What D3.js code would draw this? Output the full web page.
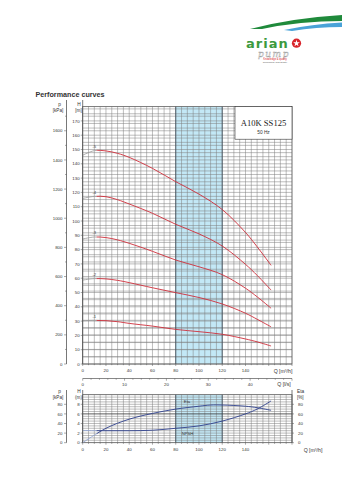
<!DOCTYPE html>
<html>
<head>
<meta charset="utf-8">
<script src="https://cdn.jsdelivr.net/npm/d3@7"></script>
<style>
  html, body { margin: 0; padding: 0; background: #fff; }
  svg { display: block; font-family: Arial, "Liberation Sans", sans-serif; }
</style>
</head>
<body>
<svg id="chart" width="342" height="480"></svg>
<script>
// ---- pump performance data ----
const flowPoints = [0, 10, 20, 30, 40, 60, 80, 100, 120, 140, 150, 162];      // Q [m³/h]
const stageNames = ["-1", "-2", "-3", "-4", "-5"];
const headStage1 = [30.3, 30.5, 30.3, 29.6, 28.4, 26.5, 24.2, 22.6, 20.8, 17.5, 15.5, 12.6];
const headStage2 = [58.7, 59.7, 59.5, 58.5, 56.9, 53.3, 49.9, 46.5, 42.0, 35.5, 31.3, 26.0];
const headStage3 = [87.4, 88.8, 88.4, 86.8, 84.4, 78.8, 72.7, 68.0, 62.5, 53.0, 47.0, 39.0];
const headStage4 = [115.8, 117.2, 117.0, 114.9, 111.9, 105.4, 97.7, 91.0, 82.5, 69.7, 62.0, 51.7];
const headStage5 = [146.0, 149.2, 149.0, 147.3, 144.5, 136.8, 127.5, 118.8, 108.0, 92.0, 82.0, 69.0];
const stageHeads = [headStage1, headStage2, headStage3, headStage4, headStage5];

const operatingStart = 12;            // Q where the working range begins
const recommendedRange = [80, 120];   // shaded best-efficiency band

const effFlow = [0, 20, 40, 60, 80, 100, 110, 120, 140, 150, 162];
const effValues = [0, 30, 49, 61, 70, 76, 78.5, 78.5, 76, 73, 67.5];          // Eta [%]
const npshFlow = [0, 20, 40, 60, 80, 100, 120, 140, 150, 162];
const npshValues = [2.55, 2.5, 2.5, 2.6, 3.0, 3.5, 4.5, 6.0, 7.0, 8.7];       // NPSH [m]

const flowTicks = [0, 20, 40, 60, 80, 100, 120, 140];
const headTicks = [0, 10, 20, 30, 40, 50, 60, 70, 80, 90, 100, 110, 120, 130, 140, 150, 160, 170];
const pressureTicks = [0, 200, 400, 600, 800, 1000, 1200, 1400, 1600];
const litreTicks = [0, 10, 20, 30, 40];
const npshTicks = [0, 2, 4, 6, 8];
const lowerPressureLabels = ["0", "20", "40", "60", "80"];
const etaTicks = [0, 20, 40, 60, 80];

const modelName = "A10K SS125";
const frequency = "50 Hz";

// ---- layout ----
const svg = d3.select("#chart");
const left = 82.7, right = 292;
const pAxisX = 66.5;

const x = d3.scaleLinear().domain([0, 180]).range([left, right]);
const yH = d3.scaleLinear().domain([0, 180]).range([364, 106.6]);
const yP = d3.scaleLinear().domain([0, 180 * 9.81]).range([364, 106.6]);
const xLs = d3.scaleLinear().domain([0, 180 / 3.6]).range([left, right]);
const yN = d3.scaleLinear().domain([0, 10]).range([442.7, 394.7]);
const yEta = d3.scaleLinear().domain([0, 100]).range([442.7, 394.7]);

const gridColor = "#7c7c7c";
const red = "#cf2e3a";
const blueDark = "#2e3f8c";
const blueLight = "#8fa3d4";

// ---- header / logo ----
const logo = svg.append("g");
logo.append("path")
  .attr("d", "M250,29 Q292,18 342,15 L342,21 Q300,21 262,29 Z")
  .attr("fill", "#1f8a3b");
logo.append("path")
  .attr("d", "M284,30 Q312,24 342,22.5 L342,27 Q316,27 292,31 Z")
  .attr("fill", "#4aa3d8");
logo.append("text").attr("x", 246).attr("y", 47.5)
  .attr("font-family", "DejaVu Sans, sans-serif")
  .attr("font-size", 13).attr("font-weight", "bold").attr("fill", "#3c9a3e")
  .attr("letter-spacing", 1).text("arian");
logo.append("circle").attr("cx", 296.5).attr("cy", 43.2).attr("r", 4.6).attr("fill", "#d8232a");
logo.append("path")
  .attr("d", d3.symbol(d3.symbolStar, 14)())
  .attr("transform", "translate(296.5,43.4)").attr("fill", "#fff");
logo.append("text").attr("x", 274).attr("y", 57).attr("text-anchor", "middle")
  .attr("font-size", 9).attr("font-style", "italic").attr("font-family", "DejaVu Serif, serif")
  .attr("fill", "none").attr("stroke", "#9a9a9a").attr("stroke-width", 0.4)
  .attr("letter-spacing", 1.5).text("pump");
logo.append("text").attr("x", 275).attr("y", 60.3).attr("text-anchor", "middle")
  .attr("font-size", 2.6).attr("fill", "#d8232a").text("Knowledge & quality");
logo.append("text").attr("x", 275).attr("y", 63.2).attr("text-anchor", "middle")
  .attr("font-size", 2.4).attr("fill", "#555").text("Technology and quality");

svg.append("text").attr("x", 35.5).attr("y", 96.5)
  .attr("font-size", 7.2).attr("font-weight", "bold").attr("fill", "#333")
  .text("Performance curves");

// ---- shared helpers ----
function drawBand(g, yTop, yBottom) {
  g.append("rect")
    .attr("x", x(recommendedRange[0])).attr("y", yTop)
    .attr("width", x(recommendedRange[1]) - x(recommendedRange[0]))
    .attr("height", yBottom - yTop)
    .attr("fill", "#c3e8f6");
}
function drawBandEdges(g, yTop, yBottom) {
  recommendedRange.forEach(q => {
    g.append("line").attr("x1", x(q)).attr("x2", x(q)).attr("y1", yTop).attr("y2", yBottom)
      .attr("stroke", "#3b4a58").attr("stroke-width", 0.8);
  });
}
function vGrid(g, yTop, yBottom) {
  g.selectAll(null).data(d3.range(0, 181, 5)).join("line")
    .attr("x1", d => x(d)).attr("x2", d => x(d))
    .attr("y1", yTop).attr("y2", yBottom)
    .attr("stroke", gridColor).attr("stroke-width", 0.5);
}
function tickLabel(g, px, py, txt, anchor, size) {
  g.append("text").attr("x", px).attr("y", py)
    .attr("text-anchor", anchor || "middle")
    .attr("font-size", size || 4.6).attr("fill", "#333").text(txt);
}

// ---- upper chart: head curves ----
const headChart = svg.append("g");
const topY = yH(180), botY = yH(0);
drawBand(headChart, topY, botY);
vGrid(headChart, topY, botY);
// head grid (5 m) and pressure grid (50 kPa)
headChart.selectAll(null).data(d3.range(0, 181, 5)).join("line")
  .attr("x1", left).attr("x2", right).attr("y1", d => yH(d)).attr("y2", d => yH(d))
  .attr("stroke", gridColor).attr("stroke-width", 0.5);
headChart.selectAll(null).data(d3.range(0, 1751, 50)).join("line")
  .attr("x1", left).attr("x2", right).attr("y1", d => yP(d)).attr("y2", d => yP(d))
  .attr("stroke", gridColor).attr("stroke-width", 0.5);
drawBandEdges(headChart, topY, botY);
headChart.append("rect").attr("x", left).attr("y", topY).attr("width", right - left).attr("height", botY - topY)
  .attr("fill", "none").attr("stroke", "#555").attr("stroke-width", 0.6);

// model box
const boxL = 235;
headChart.append("rect").attr("x", boxL).attr("y", topY).attr("width", right - boxL).attr("height", 32.6)
  .attr("fill", "#fff").attr("stroke", "#333").attr("stroke-width", 0.6);
headChart.append("text").attr("x", (boxL + right) / 2).attr("y", 126.3).attr("text-anchor", "middle")
  .attr("font-family", "Liberation Serif, 'Times New Roman', serif").attr("font-size", 8.6)
  .attr("fill", "#222").text(modelName);
headChart.append("text").attr("x", (boxL + right) / 2).attr("y", 133.8).attr("text-anchor", "middle")
  .attr("font-size", 4.8).attr("fill", "#333").text(frequency);

// curves: grey before the operating range, red within it
const defs = svg.append("defs");
defs.append("clipPath").attr("id", "clipPre").append("rect")
  .attr("x", 0).attr("y", 0).attr("width", x(operatingStart)).attr("height", 480);
defs.append("clipPath").attr("id", "clipOp").append("rect")
  .attr("x", x(operatingStart)).attr("y", 0).attr("width", 342).attr("height", 480);

const headLine = vals => d3.line().curve(d3.curveCatmullRom.alpha(0.5))
  .x((d, i) => x(flowPoints[i])).y(d => yH(d))(vals);

stageHeads.forEach((vals, k) => {
  headChart.append("path").attr("d", headLine(vals)).attr("clip-path", "url(#clipPre)")
    .attr("fill", "none").attr("stroke", "#9b9b9b").attr("stroke-width", 0.8);
  headChart.append("path").attr("d", headLine(vals)).attr("clip-path", "url(#clipOp)")
    .attr("fill", "none").attr("stroke", red).attr("stroke-width", 0.9);
  headChart.append("text").attr("x", x(10)).attr("y", yH(vals[1]) - 2.6)
    .attr("text-anchor", "middle").attr("font-size", 4.2).attr("fill", "#444")
    .text(stageNames[k]);
});

// H axis
headChart.append("line").attr("x1", left).attr("x2", left).attr("y1", 100).attr("y2", botY)
  .attr("stroke", "#555").attr("stroke-width", 0.8);
headTicks.forEach(t => {
  headChart.append("line").attr("x1", left - 2).attr("x2", left).attr("y1", yH(t)).attr("y2", yH(t))
    .attr("stroke", "#555").attr("stroke-width", 0.5);
  tickLabel(headChart, left - 3, yH(t) + 1.6, t, "end", 4.4);
});
tickLabel(headChart, 79, 105.5, "H", "middle", 4.8);
tickLabel(headChart, 78.5, 112.2, "[m]", "middle", 4.6);

// p axis
headChart.append("line").attr("x1", pAxisX).attr("x2", pAxisX).attr("y1", 100).attr("y2", botY)
  .attr("stroke", "#555").attr("stroke-width", 0.8);
d3.range(0, 1701, 100).forEach(t => {
  const major = t % 200 === 0;
  headChart.append("line").attr("x1", pAxisX - (major ? 2.5 : 1.5)).attr("x2", pAxisX)
    .attr("y1", yP(t)).attr("y2", yP(t)).attr("stroke", "#555").attr("stroke-width", 0.5);
});
pressureTicks.forEach(t => tickLabel(headChart, pAxisX - 4, yP(t) + 1.6, t, "end", 4.4));
tickLabel(headChart, 59.5, 105.5, "p", "middle", 4.8);
tickLabel(headChart, 58, 112.2, "[kPa]", "middle", 4.6);

// Q axis (m³/h)
d3.range(0, 181, 5).forEach(t => {
  headChart.append("line").attr("x1", x(t)).attr("x2", x(t)).attr("y1", botY).attr("y2", botY + (t % 20 === 0 ? 2 : 1.2))
    .attr("stroke", "#555").attr("stroke-width", 0.5);
});
flowTicks.forEach(t => tickLabel(headChart, x(t), 372, t, "middle", 4.4));
tickLabel(headChart, 283, 372.5, "Q [m³/h]", "middle", 5.2);

// Q axis (l/s)
const lsY = 378.5;
svg.append("line").attr("x1", left).attr("x2", right).attr("y1", lsY).attr("y2", lsY)
  .attr("stroke", "#555").attr("stroke-width", 0.7);
d3.range(0, 50.1, 2).forEach(t => {
  svg.append("line").attr("x1", xLs(t)).attr("x2", xLs(t)).attr("y1", lsY).attr("y2", lsY + (t % 10 === 0 ? 2.2 : 1.3))
    .attr("stroke", "#555").attr("stroke-width", 0.5);
});
litreTicks.forEach(t => tickLabel(svg, xLs(t), 385.5, t, "middle", 4.4));
tickLabel(svg, 284, 386, "Q [l/s]", "middle", 5.2);

// ---- lower chart: efficiency and NPSH ----
const lowChart = svg.append("g");
const lTop = yN(10), lBot = yN(0);
drawBand(lowChart, lTop, lBot);
vGrid(lowChart, lTop, lBot);
lowChart.selectAll(null).data(d3.range(0, 10.01, 0.5)).join("line")
  .attr("x1", left).attr("x2", right).attr("y1", d => yN(d)).attr("y2", d => yN(d))
  .attr("stroke", d => d === 6 ? "#333" : gridColor).attr("stroke-width", d => d === 6 ? 0.8 : 0.5);
drawBandEdges(lowChart, lTop, lBot);
lowChart.append("rect").attr("x", left).attr("y", lTop).attr("width", right - left).attr("height", lBot - lTop)
  .attr("fill", "none").attr("stroke", "#555").attr("stroke-width", 0.6);

const effLine = d3.line().curve(d3.curveCatmullRom.alpha(0.5))
  .x((d, i) => x(effFlow[i])).y(d => yEta(d));
const npshLine = d3.line().curve(d3.curveCatmullRom.alpha(0.5))
  .x((d, i) => x(npshFlow[i])).y(d => yN(d));
[effLine(effValues), npshLine(npshValues)].forEach(dPath => {
  lowChart.append("path").attr("d", dPath).attr("clip-path", "url(#clipPre)")
    .attr("fill", "none").attr("stroke", blueLight).attr("stroke-width", 0.8);
  lowChart.append("path").attr("d", dPath).attr("clip-path", "url(#clipOp)")
    .attr("fill", "none").attr("stroke", blueDark).attr("stroke-width", 0.9);
});
tickLabel(lowChart, 187, 403.3, "Eta", "middle", 4.2);
tickLabel(lowChart, 187.5, 434.5, "NPSH", "middle", 4.2);

// lower axes
lowChart.append("line").attr("x1", left).attr("x2", left).attr("y1", 390).attr("y2", lBot)
  .attr("stroke", "#555").attr("stroke-width", 0.8);
lowChart.append("line").attr("x1", pAxisX).attr("x2", pAxisX).attr("y1", 390).attr("y2", lBot)
  .attr("stroke", "#555").attr("stroke-width", 0.8);
npshTicks.forEach((t, i) => {
  lowChart.append("line").attr("x1", left - 2).attr("x2", left).attr("y1", yN(t)).attr("y2", yN(t))
    .attr("stroke", "#555").attr("stroke-width", 0.5);
  tickLabel(lowChart, left - 3, yN(t) + 1.6, t, "end", 4.4);
  lowChart.append("line").attr("x1", pAxisX - 2.5).attr("x2", pAxisX).attr("y1", yN(t)).attr("y2", yN(t))
    .attr("stroke", "#555").attr("stroke-width", 0.5);
  tickLabel(lowChart, pAxisX - 4, yN(t) + 1.6, lowerPressureLabels[i], "end", 4.4);
});
tickLabel(lowChart, 79, 392.5, "H", "middle", 4.8);
tickLabel(lowChart, 78.5, 398.5, "(m)", "middle", 4.6);
tickLabel(lowChart, 59.5, 392.5, "p", "middle", 4.8);
tickLabel(lowChart, 58, 398.5, "[kPa]", "middle", 4.6);

// right efficiency axis
lowChart.append("line").attr("x1", right).attr("x2", right).attr("y1", 390).attr("y2", lBot)
  .attr("stroke", "#555").attr("stroke-width", 0.8);
etaTicks.forEach(t => {
  lowChart.append("line").attr("x1", right).attr("x2", right + 2).attr("y1", yEta(t)).attr("y2", yEta(t))
    .attr("stroke", "#555").attr("stroke-width", 0.5);
  tickLabel(lowChart, right + 6, yEta(t) + 1.6, t, "start", 4.4);
});
tickLabel(lowChart, 297, 392.5, "Eta", "start", 4.8);
tickLabel(lowChart, 297, 398.5, "[%]", "start", 4.6);

d3.range(0, 181, 5).forEach(t => {
  lowChart.append("line").attr("x1", x(t)).attr("x2", x(t)).attr("y1", lBot).attr("y2", lBot + (t % 20 === 0 ? 2 : 1.2))
    .attr("stroke", "#555").attr("stroke-width", 0.5);
});
flowTicks.forEach(t => tickLabel(lowChart, x(t), 450.5, t, "middle", 4.4));
tickLabel(lowChart, 313, 451.5, "Q [m³/h]", "middle", 5.2);
</script>
</body>
</html>
